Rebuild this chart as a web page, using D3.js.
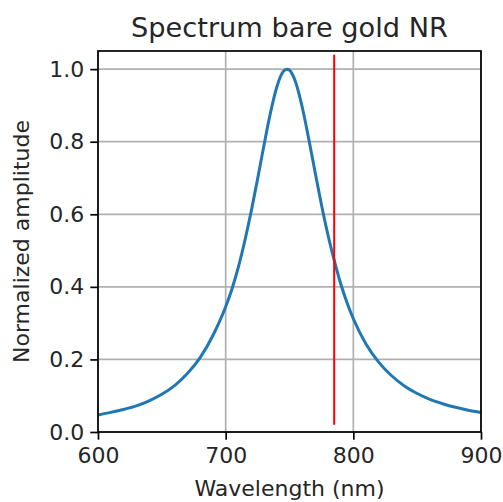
<!DOCTYPE html>
<html>
<head>
<meta charset="utf-8">
<script src="https://cdn.jsdelivr.net/npm/d3@7"></script>
<style>
  html, body { margin: 0; padding: 0; background: #fff; }
  svg { display: block; }
  text { font-family: "DejaVu Sans", sans-serif; fill: #262626; }
</style>
</head>
<body>
<svg id="chart" width="503" height="502"></svg>
<script>
// Data
const wavelengths = [600, 610, 620, 630, 640, 650, 660, 670, 680, 690,
  700, 705, 710, 715, 720, 725, 730, 735, 740, 745, 748, 750, 755, 760,
  765, 770, 775, 780, 785, 790, 795, 800, 810, 820, 830, 840, 850, 860,
  870, 880, 890, 900];
const amplitudes = [0.047, 0.054, 0.062, 0.072, 0.086, 0.104, 0.128, 0.161, 0.205, 0.266,
  0.345, 0.395, 0.455, 0.527, 0.608, 0.697, 0.790, 0.878, 0.950, 0.993, 1.0, 0.997, 0.962, 0.895,
  0.809, 0.717, 0.627, 0.545, 0.474, 0.410, 0.357, 0.312, 0.242, 0.192, 0.155, 0.127, 0.106, 0.090,
  0.078, 0.068, 0.060, 0.054];
const xTicks = [600, 700, 800, 900];
const yTicks = [0.0, 0.2, 0.4, 0.6, 0.8, 1.0];
const laserLine = [785];          // wavelength of the red marker line
const laserSpan = [0.02, 1.04];   // vertical extent of the marker line
const xDomain = [600, 900];
const yDomain = [0, 1.05];
const titleText = "Spectrum bare gold NR";
const xLabel = "Wavelength (nm)";
const yLabel = "Normalized amplitude";

const W = 503, H = 502;
const margin = { left: 98, top: 51, right: 22, bottom: 70 };
const iw = W - margin.left - margin.right;
const ih = H - margin.top - margin.bottom;

const svg = d3.select("#chart");
const g = svg.append("g").attr("transform", `translate(${margin.left},${margin.top})`);

const x = d3.scaleLinear().domain(xDomain).range([0, iw]);
const y = d3.scaleLinear().domain(yDomain).range([ih, 0]);

// grid
g.append("g").selectAll("line").data(xTicks).join("line")
  .attr("x1", d => x(d)).attr("x2", d => x(d))
  .attr("y1", 0).attr("y2", ih)
  .attr("stroke", "#b0b0b0").attr("stroke-width", 1.7);
g.append("g").selectAll("line").data(yTicks).join("line")
  .attr("x1", 0).attr("x2", iw)
  .attr("y1", d => y(d)).attr("y2", d => y(d))
  .attr("stroke", "#b0b0b0").attr("stroke-width", 1.7);

// curve
const pts = wavelengths.map((w, i) => [w, amplitudes[i]]);
const line = d3.line().x(d => x(d[0])).y(d => y(d[1])).curve(d3.curveMonotoneX);
g.append("path").datum(pts)
  .attr("d", line)
  .attr("fill", "none")
  .attr("stroke", "#1f77b4")
  .attr("stroke-width", 3)
  .attr("stroke-linejoin", "round");

// red marker line
g.append("g").selectAll("line").data(laserLine).join("line")
  .attr("x1", d => x(d)).attr("x2", d => x(d))
  .attr("y1", y(laserSpan[0])).attr("y2", y(laserSpan[1]))
  .attr("stroke", "#ff0000").attr("stroke-width", 2);

// axes
const xAxis = d3.axisBottom(x).tickValues(xTicks).tickFormat(d3.format("d"))
  .tickSizeOuter(0).tickSizeInner(7.7).tickPadding(6);
const yAxis = d3.axisLeft(y).tickValues(yTicks).tickFormat(d3.format(".1f"))
  .tickSizeOuter(0).tickSizeInner(7.7).tickPadding(6);

const gx = g.append("g").attr("transform", `translate(0,${ih})`).call(xAxis);
const gy = g.append("g").call(yAxis);
[gx, gy].forEach(a => {
  a.select(".domain").remove();
  a.selectAll(".tick line").attr("stroke", "#000").attr("stroke-width", 1.7);
  a.selectAll(".tick text").attr("font-size", 22).attr("fill", "#262626")
    .attr("font-family", "DejaVu Sans, sans-serif");
});
gx.selectAll(".tick text").attr("dy", "0.78em");

// frame
g.append("rect").attr("x", 0).attr("y", 0).attr("width", iw).attr("height", ih)
  .attr("fill", "none").attr("stroke", "#000").attr("stroke-width", 1.7);

// title and labels
svg.append("text")
  .attr("x", margin.left + iw / 2).attr("y", 37)
  .attr("text-anchor", "middle").attr("font-size", 27.2)
  .text(titleText);
svg.append("text")
  .attr("x", margin.left + iw / 2).attr("y", 496)
  .attr("text-anchor", "middle").attr("font-size", 22)
  .text(xLabel);
svg.append("text")
  .attr("transform", `translate(29,${margin.top + ih / 2}) rotate(-90)`)
  .attr("text-anchor", "middle").attr("font-size", 22)
  .text(yLabel);
</script>
</body>
</html>
